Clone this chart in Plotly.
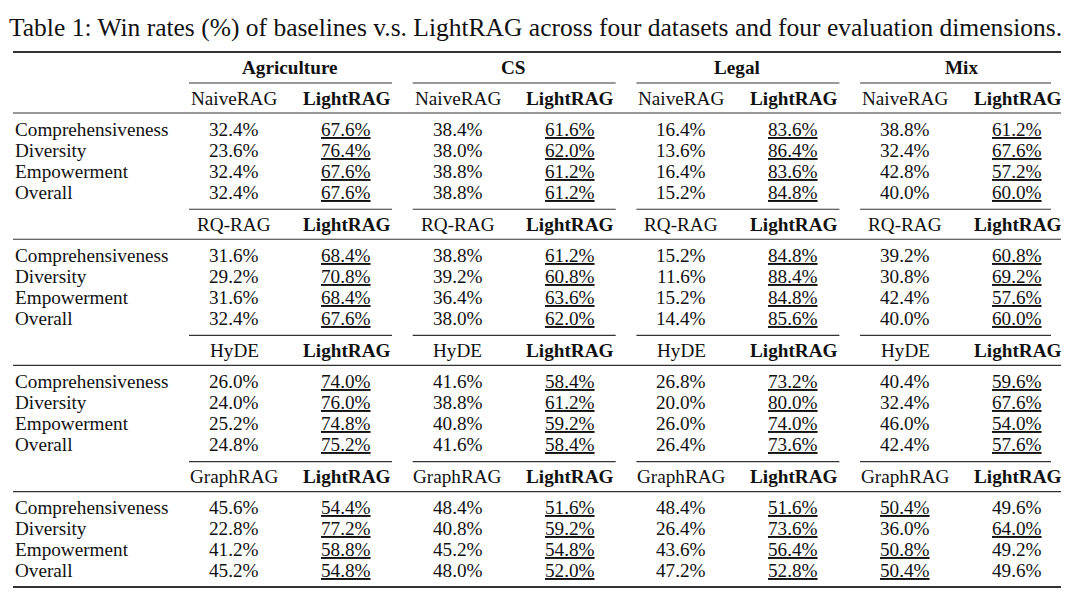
import plotly.graph_objects as go

# Conteúdo da tabela
titulo = "Table 1: Win rates (%) of baselines v.s. LightRAG across four datasets and four evaluation dimensions."
datasets = ["Agriculture", "CS", "Legal", "Mix"]
baselines = ["NaiveRAG", "RQ-RAG", "HyDE", "GraphRAG"]
metricas = ["Comprehensiveness", "Diversity", "Empowerment", "Overall"]
nosso = "LightRAG"

# Valores por baseline: [dataset][métrica]
naiverag_base = [[32.4, 23.6, 32.4, 32.4], [38.4, 38.0, 38.8, 38.8], [16.4, 13.6, 16.4, 15.2], [38.8, 32.4, 42.8, 40.0]]
naiverag_light = [[67.6, 76.4, 67.6, 67.6], [61.6, 62.0, 61.2, 61.2], [83.6, 86.4, 83.6, 84.8], [61.2, 67.6, 57.2, 60.0]]
rqrag_base = [[31.6, 29.2, 31.6, 32.4], [38.8, 39.2, 36.4, 38.0], [15.2, 11.6, 15.2, 14.4], [39.2, 30.8, 42.4, 40.0]]
rqrag_light = [[68.4, 70.8, 68.4, 67.6], [61.2, 60.8, 63.6, 62.0], [84.8, 88.4, 84.8, 85.6], [60.8, 69.2, 57.6, 60.0]]
hyde_base = [[26.0, 24.0, 25.2, 24.8], [41.6, 38.8, 40.8, 41.6], [26.8, 20.0, 26.0, 26.4], [40.4, 32.4, 46.0, 42.4]]
hyde_light = [[74.0, 76.0, 74.8, 75.2], [58.4, 61.2, 59.2, 58.4], [73.2, 80.0, 74.0, 73.6], [59.6, 67.6, 54.0, 57.6]]
graphrag_base = [[45.6, 22.8, 41.2, 45.2], [48.4, 40.8, 45.2, 48.0], [48.4, 26.4, 43.6, 47.2], [50.4, 36.0, 50.8, 50.4]]
graphrag_light = [[54.4, 77.2, 58.8, 54.8], [51.6, 59.2, 54.8, 52.0], [51.6, 73.6, 56.4, 52.8], [49.6, 64.0, 49.2, 49.6]]

blocos = [(naiverag_base, naiverag_light), (rqrag_base, rqrag_light),
          (hyde_base, hyde_light), (graphrag_base, graphrag_light)]

# Geometria (em pixels da página; a página tem margem de 8px no body)
W, H = 1080, 606
borda = 8
x_label = 13
x_col0 = 234
passo_col = 112
passo_grupo = 223.7
x_dir = 1061
y_titulo = 27
y_topo = 52
y_grupo = 67
y_sub = 98
y_linha0 = 129
passo_linha = 21
passo_bloco = 126.2
y_fundo = 587

fonte = "Liberation Serif, Times New Roman, serif"
tam = 19.2
cor_texto = "#111"
cor_regra = "#333"

fig = go.Figure()
anots = []
shapes = []


def texto(x, y, t, bold=False, sub=False, xanchor="center", size=tam):
    anots.append(dict(
        x=x, y=y, xref="x", yref="y", text=f"<b>{t}</b>" if bold else t,
        showarrow=False, xanchor=xanchor, yanchor="middle",
        font=dict(family=fonte, size=size, color=cor_texto,
                  lineposition="under" if sub else "none")
    ))


def regra(x0, x1, y, largura):
    shapes.append(dict(type="line", xref="x", yref="y", x0=x0, x1=x1, y0=y, y1=y,
                       line=dict(color=cor_regra, width=largura)))


def col_x(g, j):
    return x_col0 + passo_grupo * g + passo_col * j


# Título
texto((8 + 1062) / 2, y_titulo, titulo, size=25.5)

# Regras superior e inferior
regra(x_label, x_dir, y_topo, 1.8)
regra(x_label, x_dir, y_fundo, 1.8)

# Cabeçalho dos datasets
for g, ds in enumerate(datasets):
    texto((col_x(g, 0) + col_x(g, 1)) / 2, y_grupo, ds, bold=True)

for b, (base, light) in enumerate(blocos):
    dy = passo_bloco * b
    # cmidrules por dataset
    for g in range(len(datasets)):
        x0 = col_x(g, 0) - 45
        x1 = min(col_x(g, 1) + 46, x_dir - 10)
        regra(x0, x1, y_grupo + 16 + dy, 1.1)
    # subcabeçalho
    for g in range(len(datasets)):
        texto(col_x(g, 0), y_sub + dy, baselines[b])
        texto(col_x(g, 1), y_sub + dy, nosso, bold=True)
    regra(x_label, x_dir, y_sub + 15 + dy, 1.1)
    # linhas de métricas
    for r, m in enumerate(metricas):
        y = y_linha0 + passo_linha * r + dy
        texto(x_label, y, m, xanchor="left")
        for g in range(len(datasets)):
            vb, vl = base[g][r], light[g][r]
            texto(col_x(g, 0), y, f"{vb:.1f}%", sub=vb > vl)
            texto(col_x(g, 1), y, f"{vl:.1f}%", sub=vl > vb)

fig.update_layout(
    width=W - 2 * borda, height=H - 2 * borda,
    margin=dict(l=0, r=0, t=0, b=0),
    paper_bgcolor="white", plot_bgcolor="white",
    xaxis=dict(range=[borda, W - borda], visible=False, fixedrange=True),
    yaxis=dict(range=[H - borda, borda], visible=False, fixedrange=True),
    annotations=anots, shapes=shapes, showlegend=False
)

fig.write_html("out.html")
